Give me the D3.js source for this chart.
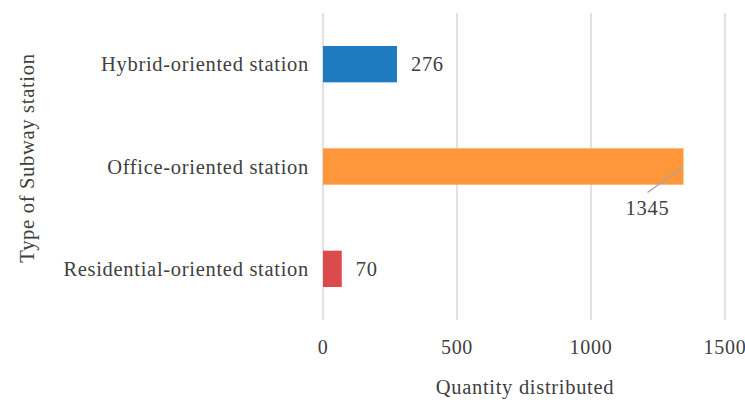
<!DOCTYPE html>
<html>
<head>
<meta charset="utf-8">
<script src="https://cdn.jsdelivr.net/npm/d3@7"></script>
<style>
  html, body { margin: 0; padding: 0; background: #fff; }
  svg text { font-family: "Liberation Serif", "DejaVu Serif", serif; fill: #404040; letter-spacing: 0.7px; }
</style>
</head>
<body>
<svg id="chart" width="745" height="400"></svg>
<script>
// Station types and the quantity distributed to each
const categories = ["Hybrid-oriented station", "Office-oriented station", "Residential-oriented station"];
const values = [276, 1345, 70];
const barColors = ["#1f7bc0", "#ff9639", "#dc4b4b"];
const xTicks = [0, 500, 1000, 1500];

const svg = d3.select("#chart");
const margin = { top: 13, left: 323 };

const x = d3.scaleLinear().domain([0, 1500]).range([margin.left, 725]);
const y = d3.scaleBand().domain(categories).range([margin.top, 320]).paddingInner(0.645).paddingOuter(0.3225);

// vertical gridlines
svg.append("g")
  .selectAll("line")
  .data(xTicks)
  .join("line")
  .attr("x1", d => x(d)).attr("x2", d => x(d))
  .attr("y1", margin.top).attr("y2", 320)
  .attr("stroke", "#d9d9d9")
  .attr("stroke-width", 1.5);

// x tick labels
svg.append("g")
  .selectAll("text")
  .data(xTicks)
  .join("text")
  .attr("x", d => x(d))
  .attr("y", 347)
  .attr("dy", "0.35em")
  .attr("text-anchor", "middle")
  .style("font-size", "20px")
  .text(d => d);

// bars
svg.append("g")
  .selectAll("rect")
  .data(values)
  .join("rect")
  .attr("x", x(0))
  .attr("y", (d, i) => y(categories[i]))
  .attr("width", d => x(d) - x(0))
  .attr("height", y.bandwidth())
  .attr("fill", (d, i) => barColors[i]);

// category labels
svg.append("g")
  .selectAll("text")
  .data(categories)
  .join("text")
  .attr("x", 309)
  .attr("y", d => y(d) + y.bandwidth() / 2)
  .attr("dy", "0.35em")
  .attr("text-anchor", "end")
  .style("font-size", "20.5px")
  .text(d => d);

// value labels
values.forEach((v, i) => {
  const cy = y(categories[i]) + y.bandwidth() / 2;
  if (i === 1) {
    // label placed below the bar end with a leader line
    svg.append("line")
      .attr("x1", x(v) - 1).attr("y1", cy + 1)
      .attr("x2", x(v) - 36).attr("y2", cy + 26)
      .attr("stroke", "#a6a6a6").attr("stroke-width", 1.5);
    svg.append("text")
      .attr("x", x(v) - 36)
      .attr("y", cy + 41)
      .attr("dy", "0.35em")
      .attr("text-anchor", "middle")
      .style("font-size", "20.5px")
      .text(v);
  } else {
    svg.append("text")
      .attr("x", x(v) + 14)
      .attr("y", cy)
      .attr("dy", "0.35em")
      .attr("text-anchor", "start")
      .style("font-size", "20.5px")
      .text(v);
  }
});

// axis titles
svg.append("text")
  .attr("x", 525)
  .attr("y", 387)
  .attr("dy", "0.35em")
  .attr("text-anchor", "middle")
  .style("font-size", "20.5px")
  .text("Quantity distributed");

svg.append("text")
  .attr("transform", "translate(27,158) rotate(-90)")
  .attr("dy", "0.35em")
  .attr("text-anchor", "middle")
  .style("font-size", "20.5px")
  .text("Type of Subway station");
</script>
</body>
</html>
